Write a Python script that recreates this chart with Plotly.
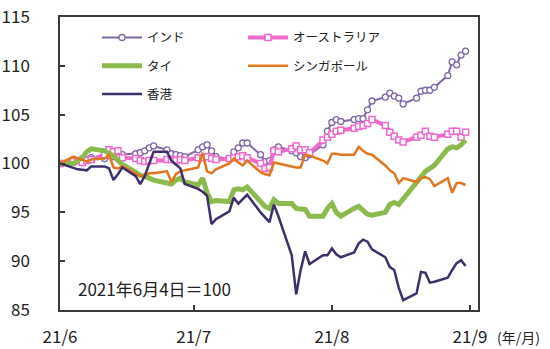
import pandas as pd
import plotly.graph_objects as go

# business days from 2021-06-04 to 2021-09-03
dates = pd.bdate_range("2021-06-04", "2021-09-03")

india = [100.0, 100.1, 100.3, 100.5, 100.4, 100.6, 100.5, 100.8, 100.7, 100.6, 100.9,
         101.0, 101.1, 101.3, 101.6, 101.8,
         101.4, 101.0, 100.9, 100.8, 100.7,
         101.4, 101.7, 101.9, 101.3, 100.7,
         100.5, 101.2, 101.6, 102.1, 102.1,
         100.9, 100.2, 100.3, 101.4, 101.7,
         101.3, 101.1, 100.7, 100.6, 100.9,
         101.9, 103.3, 104.2, 104.5, 104.3,
         104.5, 104.6, 104.6, 105.5, 106.4,
         106.8, 107.2, 106.9, 106.7, 106.1,
         106.7, 107.4, 107.5, 107.5, 107.8,
         109.0, 110.4, 110.1, 111.1, 111.5]

australia = [100.0, 100.2, 100.3, 100.1, 100.3, 100.4, 100.9, 101.4, 101.2, 101.3, 100.6,
             100.5, 100.3, 100.2, 100.3, 100.3,
             100.4, 100.4, 100.3, 100.4, 100.3,
             100.6, 100.6, 100.7, 100.5, 100.4,
             100.5, 100.6, 100.7, 100.8, 100.6,
             100.0, 99.5, 99.6, 101.3, 101.2,
             101.5, 101.8, 101.4, 101.4, 101.1,
             102.4, 102.7, 103.0, 103.3, 103.4,
             103.6, 103.8, 103.9, 104.1, 104.5,
             103.9, 103.2, 102.8, 102.4, 102.2,
             102.7, 102.9, 103.3, 102.8, 102.7,
             103.0, 103.3, 103.3, 102.7, 103.2]

thailand = [100.0, 100.0, 100.3, 100.6, 101.2, 101.5, 101.3, 101.1, 100.8, 100.3, 99.9,
            99.1, 98.8, 98.7, 98.5, 98.3,
            98.0, 97.9, 98.3, 98.5, 98.1,
            97.8, 98.5, 97.0, 96.1, 96.2,
            96.1, 97.3, 97.4, 97.3, 97.6,
            96.1, 95.6, 95.4, 96.3, 95.9,
            95.9, 95.4, 95.3, 95.3, 94.6,
            94.6, 95.4, 95.9, 95.0, 94.6,
            95.4, 95.6, 95.2, 94.8, 94.7,
            95.0, 95.8, 96.0, 95.8, 96.4,
            98.2, 98.8, 99.2, 99.5, 99.8,
            101.5, 101.7, 101.6, 101.9, 102.4]

singapore = [100.0, 100.7, 100.5, 100.4, 100.2, 100.4, 100.5, 100.9, 99.6, 99.5, 99.7,
             99.0, 98.7, 98.8, 99.0, 99.0,
             99.2, 98.1, 98.9, 99.2, 99.3,
             99.6, 101.1, 99.2, 99.0, 99.4,
             100.0, 100.5, 100.1, 99.8, 100.3,
             99.1, 98.9, 98.8, 100.1, 100.0,
             99.7, 99.6, 99.6, 100.9, 100.8,
             100.3, 100.0, 101.0, 101.0, 100.9,
             100.9, 101.7, 101.3, 101.0, 100.9,
             99.8, 99.3, 99.0, 98.0, 98.5,
             98.1, 98.5, 98.6, 98.4, 97.7,
             98.5, 97.0, 98.0, 98.0, 97.8]

hongkong = [100.0, 99.5, 99.4, 99.35, 99.3, 99.7, 99.7, 99.5, 98.3, 98.9, 99.6,
            98.7, 97.9, 98.7, 100.0, 101.2,
            101.2, 100.3, 99.9, 99.5, 97.9,
            97.4, 97.1, 96.7, 93.8, 94.3,
            95.1, 96.5, 95.9, 96.4, 96.8,
            95.0, 94.5, 94.0, 95.8, 94.6,
            90.6, 86.6, 89.1, 91.0, 89.7,
            90.6, 90.6, 91.3, 90.7, 90.4,
            90.9, 91.8, 92.2, 92.0, 91.2,
            90.4, 89.4, 89.1, 87.3, 86.0,
            86.7, 88.9, 88.8, 87.8, 87.9,
            88.3, 89.1, 89.8, 90.1, 89.5]

tick_vals = ["2021-06-04", "2021-07-04", "2021-08-04", "2021-09-04"]
tick_text = ["21/6", "21/7", "21/8", "21/9"]

FONT = "Noto Sans CJK JP, sans-serif"
AX = "#3a3a3a"

fig = go.Figure()
fig.add_trace(go.Scatter(x=dates, y=india, name="インド", mode="lines+markers",
                         line=dict(color="#7E66A8", width=2),
                         marker=dict(symbol="circle", size=6, color="white",
                                     line=dict(color="#7E66A8", width=1.3)),
                         legend="legend", legendgroup="a"))
fig.add_trace(go.Scatter(x=dates, y=australia, name="オーストラリア", mode="lines+markers",
                         line=dict(color="#EE69CC", width=4),
                         marker=dict(symbol="square", size=6, color="white",
                                     line=dict(color="#EE69CC", width=1.5)),
                         legend="legend2", legendgroup="b"))
fig.add_trace(go.Scatter(x=dates, y=thailand, name="タイ", mode="lines",
                         line=dict(color="#8DBA4E", width=5),
                         legend="legend", legendgroup="c"))
fig.add_trace(go.Scatter(x=dates, y=singapore, name="シンガポール", mode="lines",
                         line=dict(color="#E2761E", width=2.5),
                         legend="legend2", legendgroup="d"))
fig.add_trace(go.Scatter(x=dates, y=hongkong, name="香港", mode="lines",
                         line=dict(color="#3F306C", width=2.5),
                         legend="legend", legendgroup="e"))

leg_common = dict(bgcolor="rgba(0,0,0,0)", borderwidth=0, orientation="v",
                  tracegroupgap=9, itemwidth=40,
                  font=dict(family=FONT, size=12.5, color="#222"),
                  xanchor="left", yanchor="top")

fig.update_layout(
    width=550, height=349,
    margin=dict(l=60, r=72, t=17, b=39, autoexpand=False),
    paper_bgcolor="white", plot_bgcolor="white",
    font=dict(family=FONT, color="#222"),
    showlegend=True,
    legend=dict(x=0.0886, y=0.98, **leg_common),
    legend2=dict(x=0.438, y=0.98, **leg_common),
    xaxis=dict(type="date", range=["2021-06-04", "2021-09-05 19:00"],
               tickvals=tick_vals, ticktext=tick_text, automargin=False,
               ticks="inside", ticklen=5, tickwidth=1.5, tickcolor=AX,
               showline=True, linecolor=AX, linewidth=1.5, mirror=True,
               showgrid=False, zeroline=False,
               tickfont=dict(family=FONT, size=17, color="#222"),
               ticklabelstandoff=11),
    yaxis=dict(range=[85, 115], tickvals=[85, 90, 95, 100, 105, 110, 115],
               automargin=False,
               ticks="inside", ticklen=5, tickwidth=1.5, tickcolor=AX,
               showline=True, linecolor=AX, linewidth=1.5, mirror=True,
               showgrid=False, zeroline=False,
               tickfont=dict(family=FONT, size=17, color="#222"),
               ticklabelstandoff=25),
    annotations=[
        dict(text="2021年6月4日＝100", xref="paper", yref="paper",
             x=0.038, y=0.075, xanchor="left", yanchor="middle", showarrow=False,
             font=dict(family=FONT, size=17, color="#222")),
        dict(text="(年/月)", xref="paper", yref="paper",
             x=1.04, y=-0.092, xanchor="left", yanchor="middle", showarrow=False,
             font=dict(family=FONT, size=14, color="#222")),
    ],
)

fig.write_html("out.html")
